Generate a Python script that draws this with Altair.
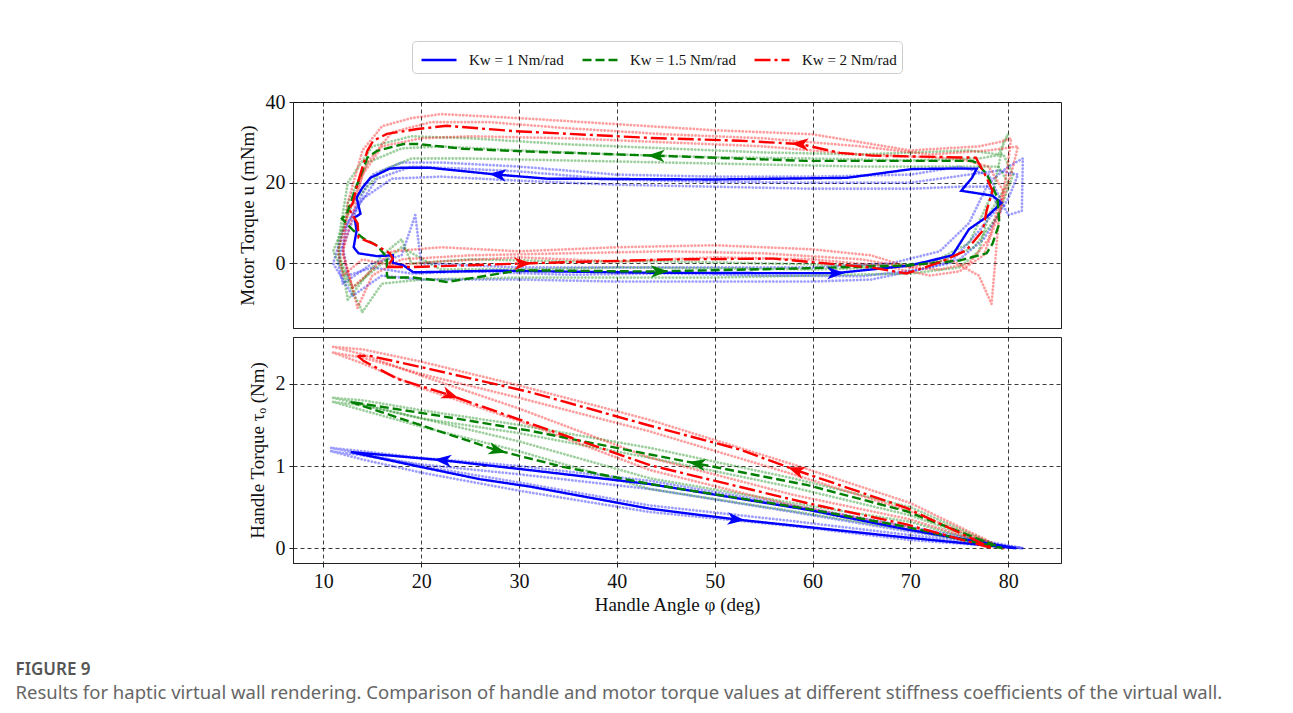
import math
import altair as alt
import pandas as pd

SERIES = ["Kw = 1 Nm/rad", "Kw = 1.5 Nm/rad", "Kw = 2 Nm/rad"]
COLORS = ["#0000ff", "#008000", "#ff0000"]
DASHES = [[1, 0], [9, 4], [16, 4, 3, 4]]

X_TICKS = [10, 20, 30, 40, 50, 60, 70, 80]

# ---------------- top panel: motor torque u (mNm) ----------------
top_blue_x = [19.2, 27.8, 43.4, 55, 62.4, 66, 70, 74.3, 76, 77.8, 79.3, 78.4, 75.2, 76.3, 76.8, 74.3, 70.2, 63.5, 50, 32.9, 27.8, 20.9, 17.9, 16.8, 14.8, 14, 13.4, 13.8, 13.2, 13.4, 13.1, 13.6, 15.5, 17.1, 17.1, 18.2, 19.2]
top_blue_y = [-2.2, -1.8, -2.3, -2.4, -2.4, -1.5, -0.5, 2, 8.5, 11.5, 15, 16.8, 18, 21.2, 23.5, 23.5, 23.4, 21.2, 20.8, 21, 22, 23.7, 23.7, 23.5, 21.2, 18.8, 16.3, 12.3, 11.4, 8.1, 4, 2.5, 1.8, 2, 0.2, -0.5, -2.2]

top_green_x = [16.5, 19.2, 21.6, 22.6, 25, 30.1, 43.4, 59.4, 69.6, 75, 77.8, 78.4, 79.1, 78.9, 77.8, 76.7, 76.3, 59.4, 44, 31.1, 24.3, 19.6, 18.2, 15.5, 14.5, 13.5, 12.4, 11.9, 13.1, 14.1, 15.5, 16.5, 16.5]
top_green_y = [-3.5, -3.5, -4.2, -4.6, -3.7, -1.7, -2.0, -1.2, -0.5, 0.7, 2.5, 4.9, 9.9, 16.3, 22.2, 25, 25.4, 25.4, 26.7, 27.7, 28.4, 29.6, 29.6, 27.9, 26.2, 19.8, 12.3, 11.1, 8.1, 6.2, 4.4, 1.5, -3.5]

top_red_x = [16.5, 19.2, 24.3, 30.4, 45.7, 56, 66, 69.6, 71.2, 73, 75.7, 77.4, 77.8, 78.4, 77.8, 76.7, 66.1, 62.8, 58.7, 52.6, 43.4, 29.4, 22.6, 19.6, 16.5, 15.1, 14.5, 13.5, 13, 12.6, 13.5, 13.6, 15.1, 16.8, 17.1, 16.5]
top_red_y = [-0.9, -0.9, -0.5, 0, 1.0, 1.2, -1.0, -2.5, -1.2, 0.25, 3.2, 8.1, 13.1, 18, 21.2, 26.2, 26.7, 27.4, 29.6, 30.4, 31.1, 32.8, 34.1, 33.3, 32.1, 30.4, 27.9, 19.8, 14.8, 13.6, 9.9, 6.4, 4.9, 2.5, 1.2, -0.9]

# individual trials (dotted), three per stiffness
top_trial_blue_a_x = [12, 15, 18, 19.4, 20, 30, 40, 50, 60, 68, 73, 76, 78, 80, 81.5, 81.4, 80, 78, 75, 70, 60, 50, 40, 30, 22, 18, 15, 12.5, 11.5, 12]
top_trial_blue_a_y = [-5, 0, 2, 12, 0, -1, -1, -1, -1, 0, 3, 10, 20, 24, 26, 13, 12, 22, 24, 22, 21.5, 21.5, 22, 24, 25, 25, 22, 10, 0, -5]
top_trial_blue_b_x = [13, 16, 20, 30, 40, 50, 60, 66, 70, 74, 77, 79, 78, 75, 70, 60, 50, 40, 30, 22, 17, 14, 12, 11, 13]
top_trial_blue_b_y = [-8, -3, -4, -4, -4.5, -4.5, -4.5, -4, -2, 0, 8, 14, 19, 19, 18.5, 18.5, 19, 19.5, 20.5, 21.5, 21, 16, 8, 0, -8]
top_trial_blue_c_x = [12.5, 15, 19, 25, 35, 45, 55, 65, 71, 75, 77.5, 80, 81, 79, 76, 70, 60, 50, 40, 30, 24, 19, 15.5, 13.5, 12, 12.5]
top_trial_blue_c_y = [-3, -1, -2.5, -2, -2.8, -2.5, -3, -3.2, -1.5, 1, 6, 16, 22, 23, 22, 20, 20, 20.2, 20.8, 22.8, 23.5, 24, 21, 14, 4, -3]

top_trial_green_a_x = [12.5, 16, 18, 19, 25, 35, 45, 55, 65, 72, 76, 78.5, 79.5, 80, 79, 76, 65, 55, 45, 35, 25, 19, 15, 12.5, 11.5, 12.5]
top_trial_green_a_y = [-9, 2, 6, 0, 1, 0.5, 0.5, 0, -0.5, 0, 5, 18, 30, 32, 27, 28, 27, 27.5, 28.5, 29.5, 31, 31.5, 29, 20, 5, -9]
top_trial_green_b_x = [14, 16, 20, 30, 40, 50, 60, 70, 75, 77, 78, 80, 79, 76, 65, 55, 45, 35, 25, 19, 16, 13, 11, 14]
top_trial_green_b_y = [-12, -5, -4, -3.5, -3.5, -3.5, -3, -2.5, -1, 3, 12, 20, 24, 24, 24, 24.5, 25, 25.5, 26, 26, 23, 15, 3, -12]
top_trial_green_c_x = [13, 15.5, 18, 22, 30, 40, 50, 60, 68, 73, 76.5, 79, 80.5, 79.5, 77, 70, 60, 50, 40, 30, 22, 18, 14.5, 12.5, 11.5, 13]
top_trial_green_c_y = [-6, -1, 4, -1.5, -1.5, -1, -1.2, -1.5, -1, 0.5, 4, 12, 22, 27, 26, 25.5, 26, 26.3, 27, 28, 29, 28.5, 25, 15, 2, -6]

top_trial_red_a_x = [13, 17, 22, 30, 40, 50, 60, 66, 70, 74, 77, 78.3, 78.6, 79, 80, 80.3, 79, 77, 70, 60, 50, 40, 30, 22, 19, 16, 14, 12.5, 12, 13]
top_trial_red_a_y = [-6, 3, 4, 3, 4, 4.5, 3.5, 2, -1, 1, -3, -10, -2, 10, 25, 31, 30, 29, 28, 32, 33, 34.5, 36, 37, 36, 34, 28, 15, 2, -6]
top_trial_red_b_x = [13.5, 15, 18, 25, 35, 45, 55, 65, 70, 73, 76, 78, 79.5, 78, 75, 65, 55, 45, 35, 25, 20, 16, 14, 13, 12, 13.5]
top_trial_red_b_y = [-11, -3, 1, 2, 2.5, 3, 2.5, 1, -1, -1.5, 0, 6, 18, 24, 26, 27, 29, 30, 31, 31.5, 31, 29, 22, 12, 3, -11]
top_trial_red_c_x = [12, 14, 17, 22, 30, 40, 50, 60, 67, 72, 75, 77.5, 79, 80.5, 81, 78, 72, 65, 55, 45, 35, 27, 21, 17, 14.5, 12.5, 11.5, 12]
top_trial_red_c_y = [-3, 1, -0.5, 0.5, 1.5, 0.5, 1.5, 1, -0.5, -3, -2, 2, 12, 24, 29, 28, 27, 29, 31, 32, 33.5, 35, 35, 32.5, 25, 12, 3, -3]

# ---------------- bottom panel: handle torque (Nm) ----------------
bot_blue_x = [12.8, 19.9, 26, 31.1, 43.4, 52.2, 69.6, 80.8, 69.6, 59.4, 43.4, 31.1, 22.2, 12.8]
bot_blue_y = [1.17, 0.99, 0.84, 0.75, 0.48, 0.35, 0.13, 0.0, 0.23, 0.47, 0.78, 0.95, 1.07, 1.17]

bot_green_x = [12.8, 17.6, 27.8, 34.5, 43.4, 59.4, 69.6, 79.4, 69.6, 59.4, 48.2, 43.4, 31.1, 20.9, 12.8]
bot_green_y = [1.78, 1.59, 1.19, 0.99, 0.78, 0.48, 0.26, 0.0, 0.45, 0.77, 1.03, 1.14, 1.43, 1.63, 1.78]

bot_red_x = [13.5, 14.1, 17.6, 23, 31.1, 43.4, 59.4, 69.6, 78.4, 69.6, 58.3, 52.6, 43.4, 31.1, 20.9, 14.8, 13.5]
bot_red_y = [2.34, 2.28, 2.06, 1.86, 1.52, 1.01, 0.55, 0.29, 0.0, 0.49, 0.95, 1.2, 1.49, 1.9, 2.18, 2.34, 2.34]

bot_trial_x = [11, 14, 20, 30, 43.4, 58, 70, 79.5, 70, 58, 43.4, 30, 20, 14, 11]
bot_trial_blue_x = [10.8, 14, 20, 30, 43.4, 58, 70, 81.5, 70, 58, 43.4, 30, 20, 14, 10.8]
bot_trial_blue_a_y = [1.22, 1.15, 1.0, 0.8, 0.52, 0.33, 0.16, 0.0, 0.26, 0.52, 0.82, 1.0, 1.1, 1.18, 1.22]
bot_trial_blue_b_y = [1.18, 1.08, 0.92, 0.7, 0.44, 0.27, 0.1, 0.0, 0.2, 0.44, 0.72, 0.9, 1.02, 1.13, 1.18]
bot_trial_green_a_y = [1.83, 1.75, 1.58, 1.3, 0.85, 0.55, 0.32, 0.0, 0.5, 0.85, 1.22, 1.5, 1.68, 1.8, 1.83]
bot_trial_green_b_y = [1.78, 1.68, 1.48, 1.18, 0.72, 0.45, 0.22, 0.0, 0.4, 0.74, 1.1, 1.4, 1.58, 1.74, 1.78]
bot_trial_red_a_y = [2.45, 2.36, 2.1, 1.7, 1.1, 0.65, 0.35, 0.0, 0.55, 1.02, 1.56, 1.98, 2.27, 2.42, 2.45]
bot_trial_red_b_y = [2.38, 2.25, 1.95, 1.55, 0.95, 0.52, 0.25, 0.0, 0.45, 0.9, 1.42, 1.83, 2.12, 2.32, 2.38]

# arrows: (series index, segment start index in the mean loop, fraction along segment)
top_arrows = [(0, 3, 1.0), (0, 20, 0.0), (1, 6, 0.06), (1, 18, 0.0), (2, 3, 0.0), (2, 18, 0.0)]
bot_arrows = [(0, 5, 0.0), (0, 12, 0.0), (1, 2, 0.0), (1, 10, 0.0), (2, 3, 0.0), (2, 10, 0.0)]

# ---------------- layout constants ----------------
W = 768
H = 226
X_DOM = [6.9, 85.4]
TOP_DOM = [-16, 40]
BOT_DOM = [-0.18, 2.57]

SERIF = "Liberation Serif"


def loops_df(loops):
    rows = []
    for s, (xs, ys, tag) in loops:
        for i, (x, y) in enumerate(zip(xs, ys)):
            rows.append({"series": SERIES[s], "trace": f"{s}-{tag}", "i": i, "x": x, "y": y})
    return pd.DataFrame(rows)


def arrows_df(arrows, means, ydom):
    sx = W / (X_DOM[1] - X_DOM[0])
    sy = H / (ydom[1] - ydom[0])
    rows = []
    for s, k, t in arrows:
        xs, ys = means[s]
        x1, y1, x2, y2 = xs[k], ys[k], xs[k + 1], ys[k + 1]
        ang = math.degrees(math.atan2(-(y2 - y1) * sy, (x2 - x1) * sx)) % 360
        rows.append({"series": SERIES[s], "x": x1 + t * (x2 - x1), "y": y1 + t * (y2 - y1), "ang": ang})
    return pd.DataFrame(rows)


color_scale = alt.Scale(domain=SERIES, range=COLORS)
dash_scale = alt.Scale(domain=SERIES, range=DASHES)
legend = alt.Legend(
    orient="none", legendX=119, legendY=-61, direction="horizontal", title=None,
    symbolType="M -1.4 0 L 1.4 0", symbolSize=625, symbolStrokeWidth=2.5, symbolOpacity=1,
    labelFont=SERIF, labelFontSize=15, labelColor="#111", columnPadding=13, symbolOffset=8,
    strokeColor="#cccccc", fillColor="white", padding=5, cornerRadius=4, labelOffset=16,
)

ARROW = "M 1 0 L -1 -0.72 L -0.45 0 L -1 0.72 Z"


def panel(means, trials, arrows, ydom, yvals, ytitle, bottom):
    mean_df = loops_df([(s, (xs, ys, "mean")) for s, (xs, ys) in enumerate(means)])
    trial_df = loops_df(trials)
    arr_df = arrows_df(arrows, means, ydom)

    xax = alt.Axis(values=X_TICKS, labels=bottom, title="Handle Angle φ (deg)" if bottom else None,
                   titlePadding=4)
    x = alt.X("x:Q", scale=alt.Scale(domain=X_DOM, nice=False, zero=False), axis=xax)
    y = alt.Y("y:Q", scale=alt.Scale(domain=ydom, nice=False, zero=False),
              axis=alt.Axis(values=yvals, title=ytitle))

    trial_layer = alt.Chart(trial_df).mark_line(
        strokeWidth=2.8, strokeDash=[0.1, 3.4], strokeCap="round", opacity=0.38, clip=True
    ).encode(x=x, y=y, detail="trace:N", order="i:Q",
             color=alt.Color("series:N", scale=color_scale, legend=legend))

    mean_layer = alt.Chart(mean_df).mark_line(strokeWidth=2.4, clip=True).encode(
        x=x, y=y, order="i:Q",
        color=alt.Color("series:N", scale=color_scale, legend=legend),
        strokeDash=alt.StrokeDash("series:N", scale=dash_scale, legend=legend),
    )

    arrow_layer = alt.Chart(arr_df).mark_point(
        shape=ARROW, filled=True, size=300, opacity=1, strokeWidth=0
    ).encode(
        x=x, y=y, angle=alt.Angle("ang:Q", scale=None),
        color=alt.Color("series:N", scale=color_scale, legend=legend),
    )

    return alt.layer(trial_layer, mean_layer, arrow_layer).properties(width=W, height=H)


top = panel(
    [(top_blue_x, top_blue_y), (top_green_x, top_green_y), (top_red_x, top_red_y)],
    [
        (0, (top_trial_blue_a_x, top_trial_blue_a_y, "a")),
        (0, (top_trial_blue_b_x, top_trial_blue_b_y, "b")),
        (0, (top_trial_blue_c_x, top_trial_blue_c_y, "c")),
        (1, (top_trial_green_a_x, top_trial_green_a_y, "a")),
        (1, (top_trial_green_b_x, top_trial_green_b_y, "b")),
        (1, (top_trial_green_c_x, top_trial_green_c_y, "c")),
        (2, (top_trial_red_a_x, top_trial_red_a_y, "a")),
        (2, (top_trial_red_b_x, top_trial_red_b_y, "b")),
        (2, (top_trial_red_c_x, top_trial_red_c_y, "c")),
    ],
    top_arrows, TOP_DOM, [0, 20, 40], "Motor Torque u (mNm)", False,
)

bottom = panel(
    [(bot_blue_x, bot_blue_y), (bot_green_x, bot_green_y), (bot_red_x, bot_red_y)],
    [
        (0, (bot_trial_blue_x, bot_trial_blue_a_y, "a")),
        (0, (bot_trial_blue_x, bot_trial_blue_b_y, "b")),
        (1, (bot_trial_x, bot_trial_green_a_y, "a")),
        (1, (bot_trial_x, bot_trial_green_b_y, "b")),
        (2, (bot_trial_x, bot_trial_red_a_y, "a")),
        (2, (bot_trial_x, bot_trial_red_b_y, "b")),
    ],
    bot_arrows, BOT_DOM, [0, 1, 2], "Handle Torque τₒ (Nm)", True,
)

chart = alt.vconcat(top, bottom, spacing=3).resolve_scale(
    color="shared", strokeDash="shared"
).properties(
    title=alt.TitleParams(
        text="FIGURE 9",
        subtitle="Results for haptic virtual wall rendering. Comparison of handle and motor torque values at different stiffness coefficients of the virtual wall.",
        orient="bottom", anchor="start", frame="bounds", dx=-222, offset=47,
        font="Noto Sans", fontSize=17, fontWeight=600, color="#555555",
        subtitleFont="Noto Sans", subtitleFontSize=18.5, subtitleColor="#666666", subtitlePadding=5,
    ),
    padding={"left": 15, "top": 40, "right": 20, "bottom": 5},
    background="white",
).configure_view(stroke="#222222", strokeWidth=1).configure_axis(
    labelFont=SERIF, titleFont=SERIF, labelFontSize=20, titleFontSize=19,
    labelColor="#111", titleColor="#111", titleFontWeight="normal",
    grid=True, gridColor="#000000", gridDash=[4, 3], gridWidth=0.9, gridOpacity=0.85,
    domainColor="#222222", tickColor="#222222", tickSize=4, labelPadding=4, titlePadding=8,
)

chart.save("out.html", embed_options={"renderer": "svg", "actions": False})
